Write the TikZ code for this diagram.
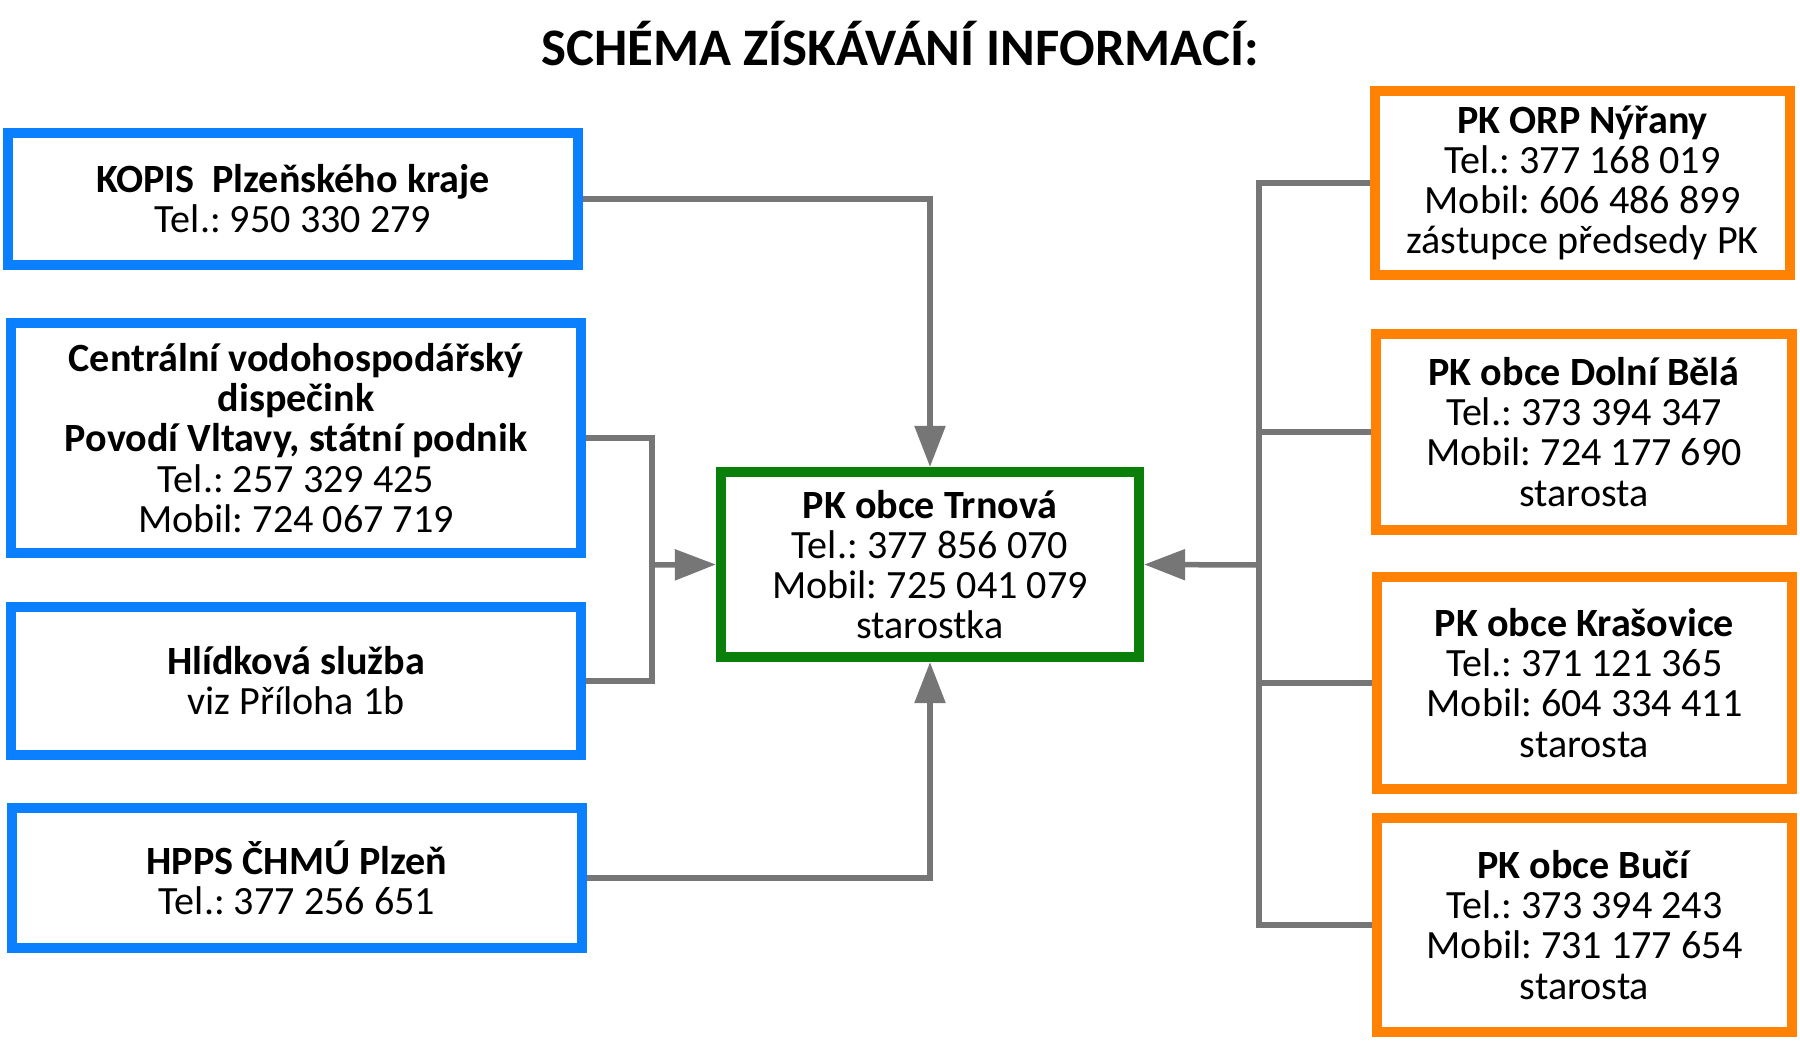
\documentclass[tikz,border=0pt]{standalone}
\usepackage{fontspec}
\setmainfont{Carlito}
\usetikzlibrary{arrows.meta,positioning}
\definecolor{SourceBlue}{HTML}{0A80FF}
\definecolor{ContactOrange}{HTML}{FF8205}
\definecolor{HubGreen}{HTML}{0A800A}
\definecolor{LinkGrey}{HTML}{767676}
\frenchspacing
\tikzset{
  card/.style={
    draw,
    line width=1mm,
    fill=white,
    align=center,
    inner sep=0pt,
    font=\fontsize{11.4pt}{11.4pt}\selectfont
  },
  sourcecard/.style={card, draw=SourceBlue, minimum width=5.7cm},
  contactcard/.style={card, draw=ContactOrange, minimum width=4.15cm},
  hubcard/.style={card, draw=HubGreen, minimum width=4.18cm, minimum height=1.85cm},
  link/.style={draw=LinkGrey, line width=0.55mm},
  feed/.style={link, -{Triangle[length=4.1mm, width=3mm]}}
}

\begin{document}
\begin{tikzpicture}[x=0.01cm, y=-0.01cm]
  \useasboundingbox (0,0) rectangle (1800,1042);

  \node (title) at (900,44) {\fontsize{15pt}{18pt}\selectfont\bfseries SCHÉMA ZÍSKÁVÁNÍ INFORMACÍ:};

  % hub
  \node[hubcard] (trnova) at (930,564.5) {\textbf{PK obce Trnová}\\
    Tel.: 377 856 070\\
    Mobil: 725 041 079\\
    starostka};

  % sources on the left
  \node[sourcecard, minimum height=1.32cm] (kopis) at (293,199) {\textbf{KOPIS~~Plzeňského kraje}\\
    Tel.: 950 330 279};
  \node[sourcecard, minimum height=2.30cm] (dispecink) at (296,438) {\textbf{Centrální vodohospodářský}\\
    \textbf{dispečink}\\
    \textbf{Povodí Vltavy, státní podnik}\\
    Tel.: 257 329 425\\
    Mobil: 724 067 719};
  \node[sourcecard, minimum height=1.48cm] (hlidka) at (296,681) {\textbf{Hlídková služba}\\
    viz Příloha 1b};
  \node[sourcecard, minimum height=1.40cm] (hpps) at (297,878) {\textbf{HPPS ČHMÚ Plzeň}\\
    Tel.: 377 256 651};

  % contacts on the right
  \node[contactcard, minimum height=1.84cm] (nyrany) at (1582.5,183) {\textbf{PK ORP Nýřany}\\
    Tel.: 377 168 019\\
    Mobil: 606 486 899\\
    zástupce předsedy PK};
  \node[contactcard, minimum height=1.96cm] (bela) at (1584,432) {\textbf{PK obce Dolní Bělá}\\
    Tel.: 373 394 347\\
    Mobil: 724 177 690\\
    starosta};
  \node[contactcard, minimum height=2.12cm] (krasovice) at (1584.5,683) {\textbf{PK obce Krašovice}\\
    Tel.: 371 121 365\\
    Mobil: 604 334 411\\
    starosta};
  \node[contactcard, minimum height=2.14cm] (buci) at (1584.5,925) {\textbf{PK obce Bučí}\\
    Tel.: 373 394 243\\
    Mobil: 731 177 654\\
    starosta};

  \coordinate (leftjoin) at (652,565);
  \coordinate (rightjoin) at (1259,565);

  \draw[feed] (kopis.east) -| (trnova.north);
  \draw[feed] (hpps.east) -| (trnova.south);
  \draw[link] (dispecink.east) -| (leftjoin) |- (hlidka.east);
  \draw[feed] (leftjoin) -- (trnova.west);

  \draw[link] (nyrany.west) -| (rightjoin) |- (buci.west);
  \draw[link] (bela.west) -- (bela.west -| rightjoin);
  \draw[link] (krasovice.west) -- (krasovice.west -| rightjoin);
  \draw[feed] (rightjoin) -- (trnova.east);
\end{tikzpicture}
\end{document}
